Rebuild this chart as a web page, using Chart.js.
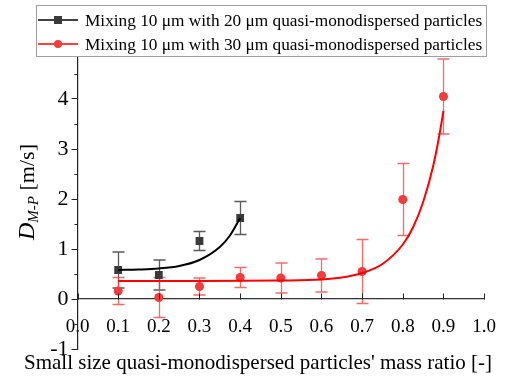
<!DOCTYPE html>
<html>
<head>
<meta charset="utf-8">
<script src="https://cdn.jsdelivr.net/npm/chart.js@4/dist/chart.umd.min.js"></script>
<style>
    html, body { margin: 0; padding: 0; background: #fff; }
    #contenedor { width: 505px; height: 378px; }
</style>
</head>
<body>
<div id="contenedor"><canvas id="graficoDmp" width="505" height="378"></canvas></div>
<script>
// Mezcla 10 um + 20 um
const ratio20 = [0.1, 0.2, 0.3, 0.4];
const dmp20 = [0.58, 0.48, 1.16, 1.62];
const err20 = [0.36, 0.30, 0.19, 0.33];

// Mezcla 10 um + 30 um
const ratio30 = [0.1, 0.2, 0.3, 0.4, 0.5, 0.6, 0.7, 0.8, 0.9];
const dmp30 = [0.16, 0.03, 0.25, 0.43, 0.42, 0.47, 0.55, 1.99, 4.05];
const err30 = [0.27, 0.40, 0.17, 0.20, 0.30, 0.33, 0.64, 0.72, 0.75];

// Curvas de ajuste exponencial
const ajuste20X = [0.1, 0.15, 0.2, 0.25, 0.3, 0.35, 0.375, 0.4];
const ajuste20Y = [0.58, 0.59, 0.61, 0.66, 0.78, 1.04, 1.27, 1.62];
const ajuste30X = [0.1, 0.3, 0.5, 0.6, 0.65, 0.7, 0.75, 0.8, 0.825, 0.85, 0.875, 0.89, 0.9];
const ajuste30Y = [0.36, 0.36, 0.37, 0.39, 0.43, 0.52, 0.70, 1.09, 1.43, 1.94, 2.67, 3.28, 3.76];

const ticksX = [0, 0.1, 0.2, 0.3, 0.4, 0.5, 0.6, 0.7, 0.8, 0.9, 1.0];
const ticksY = [-1, 0, 1, 2, 3, 4];

const etiquetas = [
    'Mixing 10 \u03bcm with 20 \u03bcm quasi-monodispersed particles',
    'Mixing 10 \u03bcm with 30 \u03bcm quasi-monodispersed particles'
];
const tituloX = "Small size quasi-monodispersed particles' mass ratio [-]";

const serif = "'Liberation Serif', 'Times New Roman', serif";
const negro = '#3a3a3a';
const rojo = '#f03c3c';

const puntos = (xs, ys) => xs.map((v, i) => ({ x: v, y: ys[i] }));

// barras de error, dibujadas bajo los marcadores
const barrasError = {
    id: 'barrasError',
    beforeDatasetsDraw(chart) {
        const { ctx, scales: { x, y } } = chart;
        chart.data.datasets.forEach((ds) => {
            if (!ds.errores) return;
            ctx.save();
            ctx.strokeStyle = ds.colorError;
            ctx.lineWidth = 1.3;
            ds.data.forEach((p, j) => {
                const px = Math.round(x.getPixelForValue(p.x)) + 0.5;
                const arriba = y.getPixelForValue(p.y + ds.errores[j]);
                const abajo = y.getPixelForValue(p.y - ds.errores[j]);
                ctx.beginPath();
                ctx.moveTo(px, arriba);
                ctx.lineTo(px, abajo);
                ctx.moveTo(px - 6, arriba);
                ctx.lineTo(px + 6, arriba);
                ctx.moveTo(px - 6, abajo);
                ctx.lineTo(px + 6, abajo);
                ctx.stroke();
            });
            ctx.restore();
        });
    }
};

// marcas hacia dentro en X, marcas menores en Y, titulos y leyenda
const decoracion = {
    id: 'decoracion',
    afterDraw(chart) {
        const { ctx, chartArea, scales: { x, y } } = chart;
        ctx.save();
        ctx.strokeStyle = '#222';
        ctx.lineWidth = 1;
        const y0 = Math.round(y.getPixelForValue(0)) + 0.5;
        ctx.beginPath();
        ticksX.forEach(v => {
            const px = Math.round(x.getPixelForValue(v)) + 0.5;
            ctx.moveTo(px, y0);
            ctx.lineTo(px, y0 - 6);
        });
        ticksY.forEach(v => {
            const py = Math.round(y.getPixelForValue(v + 0.5)) + 0.5;
            ctx.moveTo(chartArea.left, py);
            ctx.lineTo(chartArea.left - 3, py);
        });
        ctx.stroke();

        // titulo del eje X, mas ancho que el area del grafico
        ctx.fillStyle = '#000';
        ctx.font = '21px ' + serif;
        ctx.textAlign = 'center';
        ctx.textBaseline = 'alphabetic';
        ctx.fillText(tituloX, 258, 369);
        ctx.textAlign = 'left';

        // titulo del eje Y: D_{M-P} [m/s]
        ctx.save();
        ctx.translate(34, 192);
        ctx.rotate(-Math.PI / 2);
        const fD = 'italic 24px ' + serif;
        const fSub = 'italic 15px ' + serif;
        const fU = '22px ' + serif;
        ctx.font = fD; const wD = ctx.measureText('D').width;
        ctx.font = fSub; const wS = ctx.measureText('M-P').width;
        ctx.font = fU; const wU = ctx.measureText(' [m/s]').width;
        let cx = -(wD + wS + wU) / 2;
        ctx.font = fD; ctx.fillText('D', cx, 0); cx += wD;
        ctx.font = fSub; ctx.fillText('M-P', cx, 4); cx += wS;
        ctx.font = fU; ctx.fillText(' [m/s]', cx, 0);
        ctx.restore();

        // leyenda
        ctx.fillStyle = '#fff';
        ctx.fillRect(36, 5, 451, 52);
        ctx.strokeStyle = '#a0a0a0';
        ctx.strokeRect(36.5, 5.5, 450, 51);
        ctx.font = '17.3px ' + serif;
        ctx.textBaseline = 'middle';
        chart.data.datasets.filter(ds => ds.errores).forEach((ds, i) => {
            const fy = 20 + i * 24;
            ctx.strokeStyle = ds.i === 0 ? '#000' : '#ff0000';
            ctx.lineWidth = 1.5;
            ctx.beginPath();
            ctx.moveTo(38, fy);
            ctx.lineTo(78, fy);
            ctx.stroke();
            ctx.fillStyle = ds.backgroundColor;
            if (ds.pointStyle === 'rect') {
                ctx.fillRect(54, fy - 4, 8, 8);
            } else {
                ctx.beginPath();
                ctx.arc(58, fy, 4, 0, Math.PI * 2);
                ctx.fill();
            }
            ctx.fillStyle = '#000';
            ctx.fillText(ds.label, 85, fy + 1);
        });
        ctx.restore();
    }
};

const ctx = document.getElementById('graficoDmp').getContext('2d');
const chart = new Chart(ctx, {
    type: 'scatter',
    data: {
        datasets: [
            {
                label: etiquetas[0], i: 0,
                data: puntos(ratio20, dmp20), errores: err20, colorError: '#5a5a5a',
                pointStyle: 'rect', pointRadius: 5.5, backgroundColor: negro, borderColor: negro,
                borderWidth: 0, order: 2
            },
            {
                label: etiquetas[1], i: 1,
                data: puntos(ratio30, dmp30), errores: err30, colorError: 'rgba(240,70,70,0.8)',
                pointStyle: 'circle', pointRadius: 4.5, backgroundColor: rojo, borderColor: rojo,
                borderWidth: 0, order: 2
            },
            {
                label: 'ajuste20', data: puntos(ajuste20X, ajuste20Y), showLine: true,
                borderColor: '#000', borderWidth: 2, pointRadius: 0, cubicInterpolationMode: 'monotone', order: 1
            },
            {
                label: 'ajuste30', data: puntos(ajuste30X, ajuste30Y), showLine: true,
                borderColor: '#ff0000', borderWidth: 2, pointRadius: 0, cubicInterpolationMode: 'monotone', order: 1
            }
        ]
    },
    options: {
        responsive: false,
        animation: false,
        layout: { padding: { left: 0, right: 18, top: 49, bottom: 29 } },
        plugins: { legend: { display: false }, tooltip: { enabled: false } },
        scales: {
            x: {
                type: 'linear', min: 0, max: 1,
                position: { y: 0 },
                grid: { display: false },
                border: { display: true, color: '#333', width: 1.2 },
                ticks: {
                    stepSize: 0.1, padding: 9, color: '#000',
                    font: { family: serif, size: 19 },
                    callback: v => v.toFixed(1)
                }
            },
            y: {
                type: 'linear', min: -1, max: 5,
                grid: { drawOnChartArea: false, tickLength: 6, color: '#222' },
                border: { display: true, color: '#222', width: 1.2 },
                ticks: {
                    stepSize: 1, padding: 3, color: '#000',
                    font: { family: serif, size: 22 },
                    callback: v => (v > 4 ? '' : String(v))
                },
                afterFit: s => { s.width = 77.5; }
            }
        }
    },
    plugins: [barrasError, decoracion]
});
</script>
</body>
</html>
